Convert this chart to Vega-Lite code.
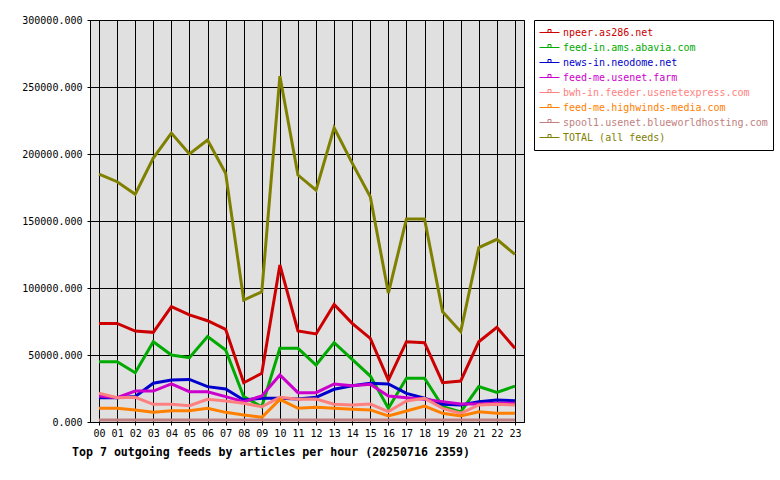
{
  "$schema": "https://vega.github.io/schema/vega-lite/v6.json",
  "autosize": {"type": "none"},
  "padding": {"left": 90, "top": 20, "right": 256, "bottom": 58},
  "width": 434,
  "height": 402,
  "background": "white",
  "title": {
    "text": "Top 7 outgoing feeds by articles per hour (20250716 2359)",
    "orient": "bottom",
    "anchor": "start",
    "frame": "group",
    "dx": -18,
    "offset": 9,
    "font": "DejaVu Sans Mono",
    "fontSize": 11.6,
    "fontWeight": "bold",
    "color": "black"
  },
  "data": {
    "values": [
      {"hour": "00", "feed": "npeer.as286.net", "articles": 73600},
      {"hour": "01", "feed": "npeer.as286.net", "articles": 73600},
      {"hour": "02", "feed": "npeer.as286.net", "articles": 67900},
      {"hour": "03", "feed": "npeer.as286.net", "articles": 66900},
      {"hour": "04", "feed": "npeer.as286.net", "articles": 86100},
      {"hour": "05", "feed": "npeer.as286.net", "articles": 79900},
      {"hour": "06", "feed": "npeer.as286.net", "articles": 75600},
      {"hour": "07", "feed": "npeer.as286.net", "articles": 69200},
      {"hour": "08", "feed": "npeer.as286.net", "articles": 29300},
      {"hour": "09", "feed": "npeer.as286.net", "articles": 36300},
      {"hour": "10", "feed": "npeer.as286.net", "articles": 117200},
      {"hour": "11", "feed": "npeer.as286.net", "articles": 67900},
      {"hour": "12", "feed": "npeer.as286.net", "articles": 65700},
      {"hour": "13", "feed": "npeer.as286.net", "articles": 87800},
      {"hour": "14", "feed": "npeer.as286.net", "articles": 73600},
      {"hour": "15", "feed": "npeer.as286.net", "articles": 62400},
      {"hour": "16", "feed": "npeer.as286.net", "articles": 31300},
      {"hour": "17", "feed": "npeer.as286.net", "articles": 59900},
      {"hour": "18", "feed": "npeer.as286.net", "articles": 59200},
      {"hour": "19", "feed": "npeer.as286.net", "articles": 29300},
      {"hour": "20", "feed": "npeer.as286.net", "articles": 30600},
      {"hour": "21", "feed": "npeer.as286.net", "articles": 59900},
      {"hour": "22", "feed": "npeer.as286.net", "articles": 70700},
      {"hour": "23", "feed": "npeer.as286.net", "articles": 55000},

      {"hour": "00", "feed": "feed-in.ams.abavia.com", "articles": 45000},
      {"hour": "01", "feed": "feed-in.ams.abavia.com", "articles": 45000},
      {"hour": "02", "feed": "feed-in.ams.abavia.com", "articles": 36800},
      {"hour": "03", "feed": "feed-in.ams.abavia.com", "articles": 59900},
      {"hour": "04", "feed": "feed-in.ams.abavia.com", "articles": 50000},
      {"hour": "05", "feed": "feed-in.ams.abavia.com", "articles": 48000},
      {"hour": "06", "feed": "feed-in.ams.abavia.com", "articles": 63700},
      {"hour": "07", "feed": "feed-in.ams.abavia.com", "articles": 53700},
      {"hour": "08", "feed": "feed-in.ams.abavia.com", "articles": 18900},
      {"hour": "09", "feed": "feed-in.ams.abavia.com", "articles": 11400},
      {"hour": "10", "feed": "feed-in.ams.abavia.com", "articles": 55000},
      {"hour": "11", "feed": "feed-in.ams.abavia.com", "articles": 55000},
      {"hour": "12", "feed": "feed-in.ams.abavia.com", "articles": 42500},
      {"hour": "13", "feed": "feed-in.ams.abavia.com", "articles": 59200},
      {"hour": "14", "feed": "feed-in.ams.abavia.com", "articles": 46800},
      {"hour": "15", "feed": "feed-in.ams.abavia.com", "articles": 34300},
      {"hour": "16", "feed": "feed-in.ams.abavia.com", "articles": 10200},
      {"hour": "17", "feed": "feed-in.ams.abavia.com", "articles": 32600},
      {"hour": "18", "feed": "feed-in.ams.abavia.com", "articles": 32600},
      {"hour": "19", "feed": "feed-in.ams.abavia.com", "articles": 11500},
      {"hour": "20", "feed": "feed-in.ams.abavia.com", "articles": 7500},
      {"hour": "21", "feed": "feed-in.ams.abavia.com", "articles": 26400},
      {"hour": "22", "feed": "feed-in.ams.abavia.com", "articles": 22100},
      {"hour": "23", "feed": "feed-in.ams.abavia.com", "articles": 26800},

      {"hour": "00", "feed": "news-in.neodome.net", "articles": 18100},
      {"hour": "01", "feed": "news-in.neodome.net", "articles": 18100},
      {"hour": "02", "feed": "news-in.neodome.net", "articles": 19000},
      {"hour": "03", "feed": "news-in.neodome.net", "articles": 28900},
      {"hour": "04", "feed": "news-in.neodome.net", "articles": 31300},
      {"hour": "05", "feed": "news-in.neodome.net", "articles": 31800},
      {"hour": "06", "feed": "news-in.neodome.net", "articles": 26400},
      {"hour": "07", "feed": "news-in.neodome.net", "articles": 24600},
      {"hour": "08", "feed": "news-in.neodome.net", "articles": 16400},
      {"hour": "09", "feed": "news-in.neodome.net", "articles": 17700},
      {"hour": "10", "feed": "news-in.neodome.net", "articles": 17700},
      {"hour": "11", "feed": "news-in.neodome.net", "articles": 17200},
      {"hour": "12", "feed": "news-in.neodome.net", "articles": 18400},
      {"hour": "13", "feed": "news-in.neodome.net", "articles": 24400},
      {"hour": "14", "feed": "news-in.neodome.net", "articles": 27100},
      {"hour": "15", "feed": "news-in.neodome.net", "articles": 28900},
      {"hour": "16", "feed": "news-in.neodome.net", "articles": 28400},
      {"hour": "17", "feed": "news-in.neodome.net", "articles": 21400},
      {"hour": "18", "feed": "news-in.neodome.net", "articles": 17700},
      {"hour": "19", "feed": "news-in.neodome.net", "articles": 13200},
      {"hour": "20", "feed": "news-in.neodome.net", "articles": 12700},
      {"hour": "21", "feed": "news-in.neodome.net", "articles": 15200},
      {"hour": "22", "feed": "news-in.neodome.net", "articles": 16400},
      {"hour": "23", "feed": "news-in.neodome.net", "articles": 15900},

      {"hour": "00", "feed": "feed-me.usenet.farm", "articles": 19400},
      {"hour": "01", "feed": "feed-me.usenet.farm", "articles": 18100},
      {"hour": "02", "feed": "feed-me.usenet.farm", "articles": 23100},
      {"hour": "03", "feed": "feed-me.usenet.farm", "articles": 23100},
      {"hour": "04", "feed": "feed-me.usenet.farm", "articles": 28400},
      {"hour": "05", "feed": "feed-me.usenet.farm", "articles": 22600},
      {"hour": "06", "feed": "feed-me.usenet.farm", "articles": 22600},
      {"hour": "07", "feed": "feed-me.usenet.farm", "articles": 18900},
      {"hour": "08", "feed": "feed-me.usenet.farm", "articles": 15200},
      {"hour": "09", "feed": "feed-me.usenet.farm", "articles": 19400},
      {"hour": "10", "feed": "feed-me.usenet.farm", "articles": 35100},
      {"hour": "11", "feed": "feed-me.usenet.farm", "articles": 21900},
      {"hour": "12", "feed": "feed-me.usenet.farm", "articles": 21900},
      {"hour": "13", "feed": "feed-me.usenet.farm", "articles": 28400},
      {"hour": "14", "feed": "feed-me.usenet.farm", "articles": 27100},
      {"hour": "15", "feed": "feed-me.usenet.farm", "articles": 28100},
      {"hour": "16", "feed": "feed-me.usenet.farm", "articles": 19400},
      {"hour": "17", "feed": "feed-me.usenet.farm", "articles": 18100},
      {"hour": "18", "feed": "feed-me.usenet.farm", "articles": 16900},
      {"hour": "19", "feed": "feed-me.usenet.farm", "articles": 15200},
      {"hour": "20", "feed": "feed-me.usenet.farm", "articles": 13400},
      {"hour": "21", "feed": "feed-me.usenet.farm", "articles": 13400},
      {"hour": "22", "feed": "feed-me.usenet.farm", "articles": 14000},
      {"hour": "23", "feed": "feed-me.usenet.farm", "articles": 14000},

      {"hour": "00", "feed": "bwh-in.feeder.usenetexpress.com", "articles": 21400},
      {"hour": "01", "feed": "bwh-in.feeder.usenetexpress.com", "articles": 18100},
      {"hour": "02", "feed": "bwh-in.feeder.usenetexpress.com", "articles": 18400},
      {"hour": "03", "feed": "bwh-in.feeder.usenetexpress.com", "articles": 13200},
      {"hour": "04", "feed": "bwh-in.feeder.usenetexpress.com", "articles": 13200},
      {"hour": "05", "feed": "bwh-in.feeder.usenetexpress.com", "articles": 12200},
      {"hour": "06", "feed": "bwh-in.feeder.usenetexpress.com", "articles": 16900},
      {"hour": "07", "feed": "bwh-in.feeder.usenetexpress.com", "articles": 15700},
      {"hour": "08", "feed": "bwh-in.feeder.usenetexpress.com", "articles": 14000},
      {"hour": "09", "feed": "bwh-in.feeder.usenetexpress.com", "articles": 11400},
      {"hour": "10", "feed": "bwh-in.feeder.usenetexpress.com", "articles": 18400},
      {"hour": "11", "feed": "bwh-in.feeder.usenetexpress.com", "articles": 16900},
      {"hour": "12", "feed": "bwh-in.feeder.usenetexpress.com", "articles": 17200},
      {"hour": "13", "feed": "bwh-in.feeder.usenetexpress.com", "articles": 13200},
      {"hour": "14", "feed": "bwh-in.feeder.usenetexpress.com", "articles": 12700},
      {"hour": "15", "feed": "bwh-in.feeder.usenetexpress.com", "articles": 13400},
      {"hour": "16", "feed": "bwh-in.feeder.usenetexpress.com", "articles": 7800},
      {"hour": "17", "feed": "bwh-in.feeder.usenetexpress.com", "articles": 15700},
      {"hour": "18", "feed": "bwh-in.feeder.usenetexpress.com", "articles": 17700},
      {"hour": "19", "feed": "bwh-in.feeder.usenetexpress.com", "articles": 10200},
      {"hour": "20", "feed": "bwh-in.feeder.usenetexpress.com", "articles": 6500},
      {"hour": "21", "feed": "bwh-in.feeder.usenetexpress.com", "articles": 12700},
      {"hour": "22", "feed": "bwh-in.feeder.usenetexpress.com", "articles": 13200},
      {"hour": "23", "feed": "bwh-in.feeder.usenetexpress.com", "articles": 12700},

      {"hour": "00", "feed": "feed-me.highwinds-media.com", "articles": 10200},
      {"hour": "01", "feed": "feed-me.highwinds-media.com", "articles": 10200},
      {"hour": "02", "feed": "feed-me.highwinds-media.com", "articles": 9000},
      {"hour": "03", "feed": "feed-me.highwinds-media.com", "articles": 7200},
      {"hour": "04", "feed": "feed-me.highwinds-media.com", "articles": 8400},
      {"hour": "05", "feed": "feed-me.highwinds-media.com", "articles": 8400},
      {"hour": "06", "feed": "feed-me.highwinds-media.com", "articles": 10200},
      {"hour": "07", "feed": "feed-me.highwinds-media.com", "articles": 7200},
      {"hour": "08", "feed": "feed-me.highwinds-media.com", "articles": 5200},
      {"hour": "09", "feed": "feed-me.highwinds-media.com", "articles": 3500},
      {"hour": "10", "feed": "feed-me.highwinds-media.com", "articles": 16900},
      {"hour": "11", "feed": "feed-me.highwinds-media.com", "articles": 10200},
      {"hour": "12", "feed": "feed-me.highwinds-media.com", "articles": 11000},
      {"hour": "13", "feed": "feed-me.highwinds-media.com", "articles": 10200},
      {"hour": "14", "feed": "feed-me.highwinds-media.com", "articles": 9500},
      {"hour": "15", "feed": "feed-me.highwinds-media.com", "articles": 9000},
      {"hour": "16", "feed": "feed-me.highwinds-media.com", "articles": 4500},
      {"hour": "17", "feed": "feed-me.highwinds-media.com", "articles": 8200},
      {"hour": "18", "feed": "feed-me.highwinds-media.com", "articles": 11900},
      {"hour": "19", "feed": "feed-me.highwinds-media.com", "articles": 6500},
      {"hour": "20", "feed": "feed-me.highwinds-media.com", "articles": 4500},
      {"hour": "21", "feed": "feed-me.highwinds-media.com", "articles": 7700},
      {"hour": "22", "feed": "feed-me.highwinds-media.com", "articles": 6500},
      {"hour": "23", "feed": "feed-me.highwinds-media.com", "articles": 6500},

      {"hour": "00", "feed": "spool1.usenet.blueworldhosting.com", "articles": 1500},
      {"hour": "01", "feed": "spool1.usenet.blueworldhosting.com", "articles": 1500},
      {"hour": "02", "feed": "spool1.usenet.blueworldhosting.com", "articles": 1500},
      {"hour": "03", "feed": "spool1.usenet.blueworldhosting.com", "articles": 1500},
      {"hour": "04", "feed": "spool1.usenet.blueworldhosting.com", "articles": 1500},
      {"hour": "05", "feed": "spool1.usenet.blueworldhosting.com", "articles": 1500},
      {"hour": "06", "feed": "spool1.usenet.blueworldhosting.com", "articles": 1500},
      {"hour": "07", "feed": "spool1.usenet.blueworldhosting.com", "articles": 1500},
      {"hour": "08", "feed": "spool1.usenet.blueworldhosting.com", "articles": 1500},
      {"hour": "09", "feed": "spool1.usenet.blueworldhosting.com", "articles": 1500},
      {"hour": "10", "feed": "spool1.usenet.blueworldhosting.com", "articles": 1500},
      {"hour": "11", "feed": "spool1.usenet.blueworldhosting.com", "articles": 1500},
      {"hour": "12", "feed": "spool1.usenet.blueworldhosting.com", "articles": 1500},
      {"hour": "13", "feed": "spool1.usenet.blueworldhosting.com", "articles": 1500},
      {"hour": "14", "feed": "spool1.usenet.blueworldhosting.com", "articles": 1500},
      {"hour": "15", "feed": "spool1.usenet.blueworldhosting.com", "articles": 1500},
      {"hour": "16", "feed": "spool1.usenet.blueworldhosting.com", "articles": 1500},
      {"hour": "17", "feed": "spool1.usenet.blueworldhosting.com", "articles": 1500},
      {"hour": "18", "feed": "spool1.usenet.blueworldhosting.com", "articles": 1500},
      {"hour": "19", "feed": "spool1.usenet.blueworldhosting.com", "articles": 1500},
      {"hour": "20", "feed": "spool1.usenet.blueworldhosting.com", "articles": 1500},
      {"hour": "21", "feed": "spool1.usenet.blueworldhosting.com", "articles": 1500},
      {"hour": "22", "feed": "spool1.usenet.blueworldhosting.com", "articles": 1500},
      {"hour": "23", "feed": "spool1.usenet.blueworldhosting.com", "articles": 1500},

      {"hour": "00", "feed": "TOTAL (all feeds)", "articles": 185000},
      {"hour": "01", "feed": "TOTAL (all feeds)", "articles": 179300},
      {"hour": "02", "feed": "TOTAL (all feeds)", "articles": 170000},
      {"hour": "03", "feed": "TOTAL (all feeds)", "articles": 197000},
      {"hour": "04", "feed": "TOTAL (all feeds)", "articles": 215600},
      {"hour": "05", "feed": "TOTAL (all feeds)", "articles": 200000},
      {"hour": "06", "feed": "TOTAL (all feeds)", "articles": 210400},
      {"hour": "07", "feed": "TOTAL (all feeds)", "articles": 185700},
      {"hour": "08", "feed": "TOTAL (all feeds)", "articles": 91000},
      {"hour": "09", "feed": "TOTAL (all feeds)", "articles": 97200},
      {"hour": "10", "feed": "TOTAL (all feeds)", "articles": 258200},
      {"hour": "11", "feed": "TOTAL (all feeds)", "articles": 184300},
      {"hour": "12", "feed": "TOTAL (all feeds)", "articles": 173100},
      {"hour": "13", "feed": "TOTAL (all feeds)", "articles": 219600},
      {"hour": "14", "feed": "TOTAL (all feeds)", "articles": 193200},
      {"hour": "15", "feed": "TOTAL (all feeds)", "articles": 168100},
      {"hour": "16", "feed": "TOTAL (all feeds)", "articles": 96200},
      {"hour": "17", "feed": "TOTAL (all feeds)", "articles": 151500},
      {"hour": "18", "feed": "TOTAL (all feeds)", "articles": 151500},
      {"hour": "19", "feed": "TOTAL (all feeds)", "articles": 82300},
      {"hour": "20", "feed": "TOTAL (all feeds)", "articles": 67400},
      {"hour": "21", "feed": "TOTAL (all feeds)", "articles": 130100},
      {"hour": "22", "feed": "TOTAL (all feeds)", "articles": 136300},
      {"hour": "23", "feed": "TOTAL (all feeds)", "articles": 125100}
    ]
  },
  "mark": {"type": "line", "strokeWidth": 3, "strokeJoin": "miter", "strokeCap": "butt"},
  "encoding": {
    "x": {
      "field": "hour",
      "type": "ordinal",
      "sort": null,
      "scale": {"type": "point", "padding": 0.5},
      "axis": {"title": null, "labelAngle": 0, "labelPadding": 3}
    },
    "y": {
      "field": "articles",
      "type": "quantitative",
      "scale": {"domain": [0, 300000], "nice": false},
      "axis": {"title": null, "format": ".3f", "values": [0, 50000, 100000, 150000, 200000, 250000, 300000], "labelPadding": 5}
    },
    "color": {
      "field": "feed",
      "type": "nominal",
      "sort": null,
      "scale": {
        "domain": [
          "npeer.as286.net",
          "feed-in.ams.abavia.com",
          "news-in.neodome.net",
          "feed-me.usenet.farm",
          "bwh-in.feeder.usenetexpress.com",
          "feed-me.highwinds-media.com",
          "spool1.usenet.blueworldhosting.com",
          "TOTAL (all feeds)"
        ],
        "range": ["#cc0000", "#00aa00", "#0000cc", "#cc00cc", "#ff8080", "#ff8000", "#c08080", "#808000"]
      },
      "legend": {
        "title": null,
        "orient": "right",
        "offset": 10,
        "padding": 5,
        "strokeColor": "black",
        "fillColor": "white",
        "symbolType": "M-1,0H1M-0.15,-0.3H0.15V0H-0.15Z",
        "symbolSize": 400,
        "symbolStrokeWidth": 1,
        "symbolFillColor": "transparent",
        "clipHeight": 15,
        "rowPadding": 0,
        "labelOffset": 3,
        "labelFont": "DejaVu Sans Mono",
        "labelFontSize": 10,
        "labelLimit": 400,
        "encode": {
          "labels": {"update": {"fill": {"scale": "color", "field": "value"}}}
        }
      }
    }
  },
  "config": {
    "view": {"fill": "#e0e0e0", "stroke": "black", "strokeWidth": 1},
    "axis": {
      "grid": true,
      "gridColor": "black",
      "gridOpacity": 1,
      "gridWidth": 1,
      "domainColor": "black",
      "domainWidth": 1,
      "tickColor": "black",
      "tickSize": 3,
      "labelFont": "DejaVu Sans Mono",
      "labelFontSize": 10,
      "labelColor": "black"
    }
  }
}
